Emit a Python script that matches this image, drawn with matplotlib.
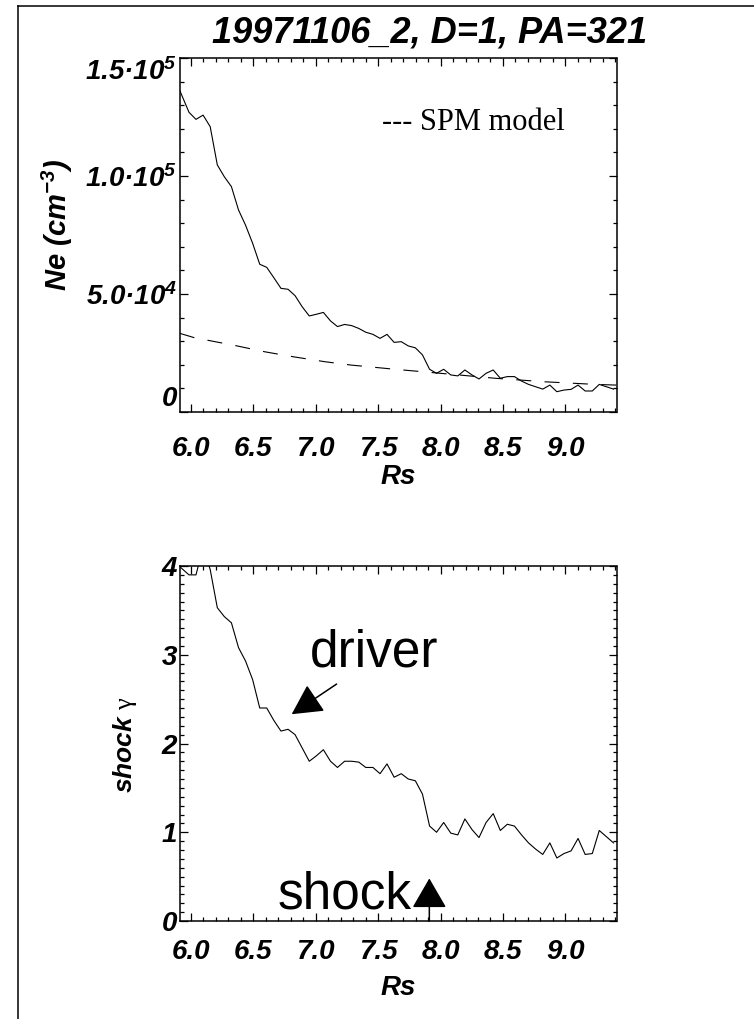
import numpy as np
import matplotlib
matplotlib.use('Agg')
import matplotlib.pyplot as plt
from matplotlib.ticker import MultipleLocator, FixedLocator, FuncFormatter
from matplotlib.lines import Line2D

plt.rcParams['font.family'] = ['Liberation Sans', 'DejaVu Sans']
plt.rcParams['font.weight'] = 'bold'
plt.rcParams['font.style'] = 'italic'
plt.rcParams['axes.labelweight'] = 'bold'
plt.rcParams['mathtext.fontset'] = 'custom'
plt.rcParams['mathtext.rm'] = 'Liberation Sans:bold:italic'
plt.rcParams['mathtext.it'] = 'Liberation Sans:bold:italic'
plt.rcParams['mathtext.bf'] = 'Liberation Sans:bold:italic'
plt.rcParams['mathtext.sf'] = 'Liberation Serif:style=normal:weight=normal'

# radial distance (Rs)
rs = [5.912, 5.984, 6.040, 6.097, 6.154, 6.211, 6.267, 6.324, 6.381, 6.437,
      6.494, 6.551, 6.607, 6.664, 6.721, 6.778, 6.834, 6.891, 6.948, 7.004,
      7.061, 7.118, 7.174, 7.231, 7.288, 7.345, 7.401, 7.458, 7.515, 7.571,
      7.628, 7.685, 7.741, 7.798, 7.855, 7.912, 7.968, 8.025, 8.082, 8.138,
      8.195, 8.252, 8.308, 8.365, 8.422, 8.479, 8.535, 8.592, 8.649, 8.705,
      8.762, 8.819, 8.876, 8.932, 8.989, 9.046, 9.102, 9.159, 9.216, 9.272,
      9.329, 9.386]

# electron density (cm^-3)
ne = [136000, 127000, 124000, 125800, 120900, 104700, 99700, 95500, 85600, 79200,
      71500, 62600, 61300, 56900, 52400, 52000, 49300, 44600, 40700, 41400,
      42200, 38600, 36200, 37100, 36600, 35400, 33800, 32900, 31200, 32900,
      29500, 29800, 28000, 27200, 24200, 18100, 16400, 18100, 15700, 15300,
      17800, 15700, 14000, 16400, 17800, 14300, 15000, 15000, 13100, 11700,
      10700, 9700, 11400, 8600, 9300, 9600, 11400, 8900, 8900, 11700,
      10700, 9700]

# compression ratio
gamma = [3.99, 3.90, 3.90, 4.21, 3.96, 3.53, 3.43, 3.36, 3.08, 2.93,
         2.72, 2.40, 2.40, 2.26, 2.14, 2.16, 2.10, 1.95, 1.80, 1.86,
         1.93, 1.80, 1.73, 1.80, 1.80, 1.79, 1.73, 1.73, 1.66, 1.77,
         1.62, 1.66, 1.60, 1.58, 1.43, 1.07, 1.00, 1.11, 0.99, 0.97,
         1.15, 1.03, 0.94, 1.11, 1.21, 1.02, 1.09, 1.07, 0.97, 0.88,
         0.81, 0.75, 0.88, 0.71, 0.76, 0.79, 0.93, 0.75, 0.76, 1.02,
         0.95, 0.88]

# SPM model density
spm_rs = [5.912, 6.026, 6.36, 6.593, 6.82, 7.074, 7.28, 7.635, 8.062, 8.436,
          8.837, 9.237, 9.41]
spm_ne = [33300, 31500, 28100, 25500, 23400, 21300, 19900, 18100, 16100, 14300,
          12800, 11700, 11400]

xticks = [6.0, 6.5, 7.0, 7.5, 8.0, 8.5, 9.0]
ne_ticks = [0, 5e4, 1e5, 1.5e5]
ne_labels = ['0', '5.0\u00b710$^{4}$', '1.0\u00b710$^{5}$', '1.5\u00b710$^{5}$']
driver_tip, driver_tail = (6.807, 2.33), (7.167, 2.67)
shock_rs = 7.91

W, H = 754, 1019
fig = plt.figure(figsize=(W / 100, H / 100), dpi=100)

def px(x0, y0, x1, y1):
    return [x0 / W, 1 - y1 / H, (x1 - x0) / W, (y1 - y0) / H]

ax1 = fig.add_axes(px(180, 58, 616.5, 412))
ax2 = fig.add_axes(px(180, 566, 616.5, 921))

for ax, xpad, lpad in ((ax1, 17, 2), (ax2, 13, 7)):
    ax.set_xlim(5.912, 9.41)
    ax.xaxis.set_major_locator(FixedLocator(xticks))
    ax.xaxis.set_minor_locator(MultipleLocator(0.1))
    ax.xaxis.set_major_formatter(FuncFormatter(lambda v, p: f'{v:.1f}'))
    ax.tick_params(which='both', direction='in', top=True, right=True, width=0.9)
    ax.tick_params(which='major', length=6, labelsize=20)
    ax.tick_params(which='minor', length=3)
    ax.tick_params(axis='x', pad=xpad)
    ax.tick_params(axis='y', pad=2)
    for s in ax.spines.values():
        s.set_linewidth(1.1)
    ax.set_xlabel('Rs', fontsize=20, labelpad=lpad)

# top panel
ax1.plot(rs, ne, color='black', lw=0.8)
ax1.plot(spm_rs, spm_ne, color='black', lw=0.8, linestyle=(0, (13.5, 12)))
ax1.set_ylim(0, 1.5e5)
ax1.yaxis.set_major_locator(FixedLocator(ne_ticks))
ax1.yaxis.set_minor_locator(MultipleLocator(1e4))
ax1.set_yticklabels(ne_labels)
ax1.set_ylabel('Ne (cm$^{-3}$)', fontsize=21)
ax1.yaxis.label.set_verticalalignment('center')
ax1.yaxis.set_label_coords(-0.282, 0.528)
ax1.text(7.528, 119500, '--- SPM model', family='Liberation Serif', fontsize=22,
         fontweight='normal', style='normal', va='baseline')

# bottom panel
ax2.plot(rs, gamma, color='black', lw=0.8)
ax2.set_ylim(0, 4)
ax2.yaxis.set_major_locator(MultipleLocator(1))
ax2.yaxis.set_minor_locator(MultipleLocator(0.1))
ax2.yaxis.set_major_formatter(FuncFormatter(lambda v, p: f'{v:.0f}'))
ax2.set_ylabel('shock $\\mathsf{\\gamma}$', fontsize=19)
ax2.yaxis.label.set_verticalalignment('center')
ax2.yaxis.set_label_coords(-0.126, 0.496)

for ax in (ax1, ax2):
    fig.canvas.draw()
    labs = ax.get_yticklabels()
    labs[0].set_verticalalignment('bottom')
    labs[-1].set_verticalalignment('top')

ax2.annotate('', xy=driver_tip, xytext=driver_tail,
             arrowprops=dict(arrowstyle='-|>,head_length=0.95,head_width=0.5',
                             mutation_scale=20, color='black', lw=1.1,
                             shrinkA=0, shrinkB=0))
ax2.text(6.954, 2.87, 'driver', fontsize=37, fontweight='normal', style='normal',
         va='baseline')
ax2.annotate('', xy=(shock_rs, 0.48), xytext=(shock_rs, 0.0),
             arrowprops=dict(arrowstyle='-|>,head_length=0.95,head_width=0.55',
                             mutation_scale=20, color='black', lw=1.1,
                             shrinkA=0, shrinkB=0))
ax2.text(6.697, 0.143, 'shock', fontsize=37, fontweight='normal', style='normal',
         va='baseline')

fig.text(430 / W, 1 - 16 / H, '19971106_2, D=1, PA=321', fontsize=26,
         ha='center', va='top')

# outer frame (left and top edges)
fig.add_artist(Line2D([18 / W, 18 / W], [0, 1 - 6 / H], transform=fig.transFigure,
                      color='black', lw=1.1))
fig.add_artist(Line2D([18 / W, 1], [1 - 6 / H, 1 - 6 / H], transform=fig.transFigure,
                      color='black', lw=1.1))

fig.savefig('out.png', dpi=100)
